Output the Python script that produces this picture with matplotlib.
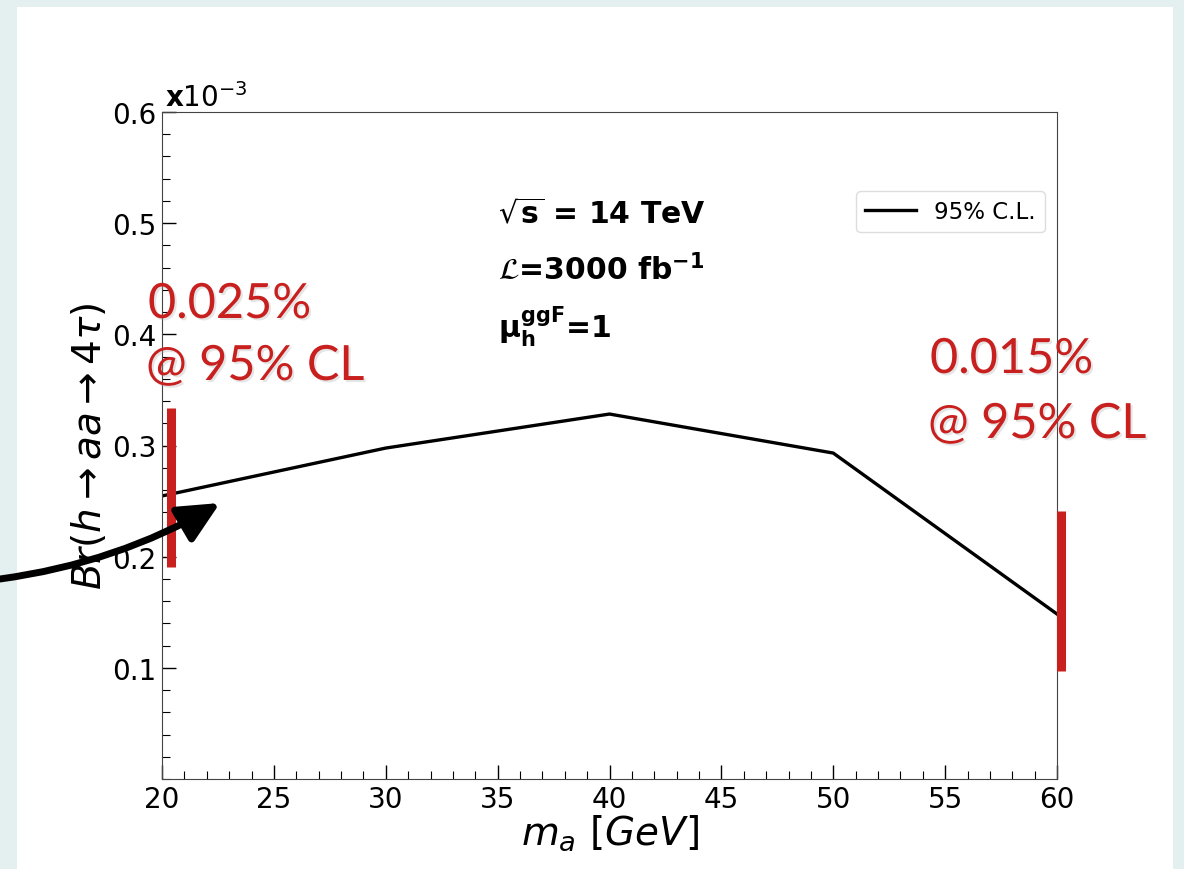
import matplotlib.pyplot as plt
import matplotlib.patheffects as pe
from matplotlib.patches import Rectangle, FancyArrowPatch
from matplotlib.ticker import MultipleLocator

# mass points (GeV) and expected 95% CL limit on Br (x1e-3)
m_a = [20, 30, 40, 50, 60]
br_limit = [0.2546, 0.2977, 0.3283, 0.2932, 0.1484]

# red marker bars at the ends (x, ymin, ymax)
bar_left = (20.4, 0.191, 0.334)
bar_right = (60.2, 0.097, 0.241)

red = '#c8201e'

fig = plt.figure(figsize=(11.84, 8.7), dpi=100)
fig.patch.set_facecolor('#e4efef')
fig.patches.append(Rectangle((17/1184, 0), (1173-17)/1184, (870-8)/870,
                             transform=fig.transFigure, facecolor='white',
                             edgecolor='none', zorder=-1))

ax = fig.add_axes([162/1184, 90/870, 895/1184, 667/870])
ax.plot(m_a, br_limit, color='black', lw=2.4, label='95% C.L.')
ax.set_xlim(20, 60)
ax.set_ylim(0, 0.6)
ax.set_yticks([0.1, 0.2, 0.3, 0.4, 0.5, 0.6])
ax.xaxis.set_minor_locator(MultipleLocator(1))
ax.yaxis.set_minor_locator(MultipleLocator(0.02))
ax.tick_params(which='both', direction='in', top=False, right=False, labelsize=20)
ax.tick_params(which='major', length=10, width=1, pad=4)
ax.tick_params(which='minor', length=6, width=0.8)
for s in ax.spines.values():
    s.set_color('#444444')

ax.set_xlabel(r'$m_a\ [GeV]$', fontsize=28, labelpad=0)
ax.set_ylabel(r'$Br(h \rightarrow aa \rightarrow 4\tau)$', fontsize=28, labelpad=2)

ax.text(0.003, 1.0, r'$\mathbf{x}10^{-3}$', transform=ax.transAxes, fontsize=20,
        ha='left', va='bottom')

ax.text(0.375, 0.848, r'$\sqrt{\mathbf{s}}$ = 14 TeV', transform=ax.transAxes,
        fontsize=21.5, fontweight='bold', va='center')
ax.text(0.375, 0.765, r'$\mathcal{L}$=3000 fb$^{\mathbf{-1}}$', transform=ax.transAxes,
        fontsize=21.5, fontweight='bold', va='center')
ax.text(0.375, 0.68, r'$\mathbf{\mu_{h}^{ggF}}$=1', transform=ax.transAxes,
        fontsize=21.5, fontweight='bold', va='center')

leg = ax.legend(loc='upper right', bbox_to_anchor=(0.9866, 0.8816), borderaxespad=0,
                fontsize=16.5, handlelength=2.2, borderpad=0.4, framealpha=1,
                edgecolor='#dddddd')

# red bars
for bx, y0, y1 in [bar_left, bar_right]:
    ax.plot([bx, bx], [y0, y1], color=red, lw=6.5, solid_capstyle='butt',
            clip_on=False, zorder=5)

shadow = [pe.SimplePatchShadow(offset=(1.5, -1.5), shadow_rgbFace='#aaaaaa', alpha=0.3),
          pe.Normal()]
for x, y, s in [(148, 305, '0.025%'), (146, 367, '@ 95% CL'),
                (930, 360, '0.015%'), (928, 425, '@ 95% CL')]:
    fig.text(x/1184, 1 - y/870, s, color=red, fontsize=35, family='Lato',
             va='center', ha='left', path_effects=shadow)

# curved black arrow coming in from the left
arrow = FancyArrowPatch((0, 1 - 580/870), (220/1184, 1 - 504/870),
                        transform=fig.transFigure, connectionstyle='arc3,rad=0.1',
                        arrowstyle='-|>,head_length=25,head_width=12', lw=5,
                        shrinkA=0, shrinkB=0,
                        color='black', mutation_scale=1, zorder=10)
fig.patches.append(arrow)

fig.savefig('out.png', dpi=100)
